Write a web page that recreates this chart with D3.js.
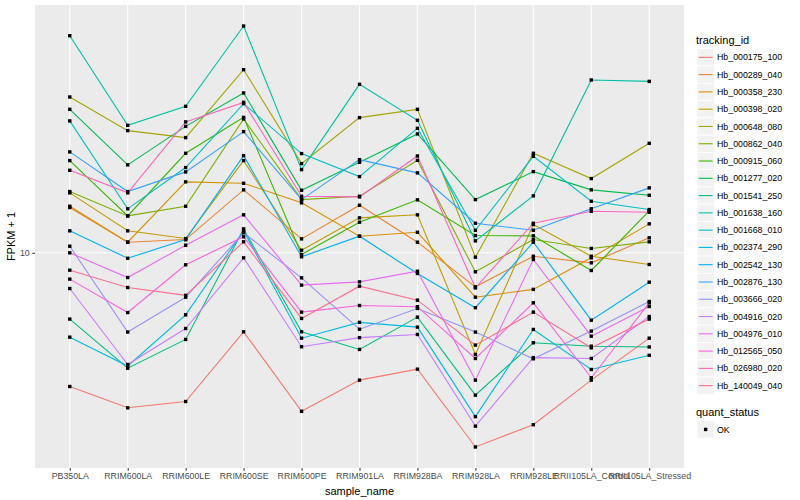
<!DOCTYPE html>
<html><head><meta charset="utf-8">
<script src="https://cdn.jsdelivr.net/npm/d3@7"></script>
<style>
body{margin:0;background:#fff}
text{font-family:"Liberation Sans",Arial,Helvetica,sans-serif}
</style>
</head><body>
<svg id="chart" width="800" height="500"></svg>
<script>
const categories = ["PB350LA","RRIM600LA","RRIM600LE","RRIM600SE","RRIM600PE","RRIM901LA","RRIM928BA","RRIM928LA","RRIM928LE","RRII105LA_Control","RRII105LA_Stressed"];
const trackingIds = ["Hb_000175_100","Hb_000289_040","Hb_000358_230","Hb_000398_020","Hb_000648_080","Hb_000862_040","Hb_000915_060","Hb_001277_020","Hb_001541_250","Hb_001638_160","Hb_001668_010","Hb_002374_290","Hb_002542_130","Hb_002876_130","Hb_003666_020","Hb_004916_020","Hb_004976_010","Hb_012565_050","Hb_026980_020","Hb_140049_040"];
const quantStatus = ["OK"];
const yTicks = [10];

// FPKM + 1 per sample (order of categories)
const Hb_000175_100 = [3.58, 3.04, 3.19, 5.45, 2.96, 3.76, 4.09, 2.25, 2.67, 3.76, 5.19];
const Hb_000289_040 = [14.16, 10.85, 11.07, 16.22, 11.13, 14.41, 10.85, 7.70, 9.74, 9.26, 11.22];
const Hb_000358_230 = [14.30, 10.85, 17.25, 17.06, 14.68, 11.36, 11.71, 7.11, 7.55, 9.62, 12.49];
const Hb_000398_020 = [15.85, 11.84, 11.16, 20.31, 10.20, 13.08, 13.39, 4.58, 12.43, 9.74, 9.14];
const Hb_000648_080 = [33.11, 25.57, 24.23, 40.83, 19.85, 28.25, 30.11, 9.67, 21.48, 17.69, 23.19];
const Hb_000862_040 = [16.01, 13.28, 14.30, 27.97, 15.05, 15.44, 20.35, 8.64, 11.07, 10.34, 10.88];
const Hb_000915_060 = [20.31, 13.28, 21.48, 28.31, 9.87, 12.65, 15.02, 11.42, 11.39, 8.73, 13.80];
const Hb_001277_020 = [30.11, 19.65, 26.42, 34.15, 16.17, 20.04, 24.93, 15.05, 18.66, 16.22, 15.56];
const Hb_001541_250 = [6.01, 4.12, 5.14, 12.02, 5.45, 4.76, 6.10, 3.35, 5.01, 4.88, 4.85];
const Hb_001638_160 = [53.01, 26.63, 30.81, 57.10, 18.95, 36.48, 27.67, 10.96, 15.49, 37.73, 37.33];
const Hb_001668_010 = [27.55, 14.02, 19.25, 31.45, 21.43, 17.96, 26.02, 11.89, 20.99, 14.86, 13.94];
const Hb_002374_290 = [5.23, 4.19, 6.21, 11.84, 5.19, 5.86, 5.65, 2.84, 5.55, 4.08, 4.55];
const Hb_002542_130 = [11.84, 9.59, 11.07, 21.10, 9.70, 11.36, 8.53, 6.56, 10.85, 5.96, 7.98];
const Hb_002876_130 = [21.71, 16.01, 18.62, 25.37, 15.05, 20.46, 18.48, 12.55, 11.89, 14.02, 16.47];
const Hb_003666_020 = [10.52, 5.44, 7.11, 11.66, 8.25, 5.56, 6.52, 5.44, 4.43, 5.48, 6.88];
const Hb_004916_020 = [7.60, 4.24, 5.59, 9.62, 4.86, 5.21, 5.34, 2.64, 4.47, 4.44, 6.13];
const Hb_004976_010 = [10.00, 8.27, 10.60, 13.39, 7.80, 8.00, 8.68, 3.76, 9.50, 5.27, 6.62];
const Hb_012565_050 = [8.17, 6.32, 9.12, 11.31, 6.34, 6.67, 6.61, 4.44, 6.81, 3.83, 6.81];
const Hb_026980_020 = [18.85, 15.85, 27.34, 31.77, 15.44, 15.37, 21.05, 7.64, 12.55, 13.76, 13.66];
const Hb_140049_040 = [8.75, 7.66, 7.21, 10.88, 6.04, 7.74, 6.95, 4.92, 6.34, 4.82, 6.01];

const seriesValues = [Hb_000175_100, Hb_000289_040, Hb_000358_230, Hb_000398_020, Hb_000648_080, Hb_000862_040, Hb_000915_060, Hb_001277_020, Hb_001541_250, Hb_001638_160, Hb_001668_010, Hb_002374_290, Hb_002542_130, Hb_002876_130, Hb_003666_020, Hb_004916_020, Hb_004976_010, Hb_012565_050, Hb_026980_020, Hb_140049_040];

const palette = ["#F8766D","#EA8331","#D89000","#C09B00","#A3A500","#7CAE00","#39B600","#00BB4E","#00BF7D","#00C1A3","#00BFC4","#00BAE0","#00B0F6","#35A2FF","#9590FF","#C77CFF","#E76BF3","#FA62DB","#FF62BC","#FF6C91"];

const series = trackingIds.map((id, i) => ({id, values: seriesValues[i]}));

const svg = d3.select("#chart");
const P = {left: 35, right: 684, top: 5, bottom: 468};

const x = d3.scalePoint().domain(categories).range([P.left, P.right]).padding(0.6);
const all = seriesValues.flat();
const lmin = Math.log10(d3.min(all)), lmax = Math.log10(d3.max(all));
const ex = (lmax - lmin) * 0.05;
const y = d3.scaleLog().domain([10 ** (lmin - ex), 10 ** (lmax + ex)]).range([P.bottom, P.top]);
const color = d3.scaleOrdinal().domain(trackingIds).range(palette);

// panel
svg.append("rect").attr("x", P.left).attr("y", P.top).attr("width", P.right - P.left).attr("height", P.bottom - P.top).attr("fill", "#EBEBEB");

// grid
const grid = svg.append("g");
grid.selectAll("line.v").data(categories).join("line")
  .attr("x1", d => x(d)).attr("x2", d => x(d)).attr("y1", P.top).attr("y2", P.bottom)
  .attr("stroke", "#fff").attr("stroke-width", 1.1);
grid.selectAll("line.h").data(yTicks).join("line")
  .attr("x1", P.left).attr("x2", P.right).attr("y1", d => y(d)).attr("y2", d => y(d))
  .attr("stroke", "#fff").attr("stroke-width", 1.1);

// lines
const line = d3.line().x((d, i) => x(categories[i])).y(d => y(d));
svg.append("g").selectAll("path").data(series).join("path")
  .attr("d", d => line(d.values)).attr("fill", "none")
  .attr("stroke", d => color(d.id)).attr("stroke-width", 1.1);

// points
const pts = series.flatMap(s => s.values.map((v, i) => ({c: categories[i], v})));
const ps = 3.4;
svg.append("g").selectAll("rect").data(pts).join("rect")
  .attr("x", d => x(d.c) - ps / 2).attr("y", d => y(d.v) - ps / 2)
  .attr("width", ps).attr("height", ps).attr("fill", "#000");

// axes
const xAxis = svg.append("g").attr("transform", `translate(0,${P.bottom})`)
  .call(d3.axisBottom(x).tickSize(2.75).tickPadding(2.5));
const yAxis = svg.append("g").attr("transform", `translate(${P.left},0)`)
  .call(d3.axisLeft(y).tickValues(yTicks).tickFormat(d3.format("d")).tickSize(2.75).tickPadding(2.5));
[xAxis, yAxis].forEach(a => {
  a.select(".domain").remove();
  a.selectAll(".tick line").attr("stroke", "#333").attr("stroke-width", 1);
  a.selectAll(".tick text").attr("fill", "#4D4D4D").style("font-size", "8.8px")
    .style("font-family", '"Liberation Sans",Arial,sans-serif');
});

svg.append("text").attr("x", (P.left + P.right) / 2).attr("y", 495).attr("text-anchor", "middle")
  .style("font-size", "11px").attr("fill", "#000").text("sample_name");
svg.append("text").attr("transform", `translate(15,${(P.top + P.bottom) / 2}) rotate(-90)`)
  .attr("text-anchor", "middle").style("font-size", "11px").attr("fill", "#000").text("FPKM + 1");

// legend: tracking_id
const lg = svg.append("g");
lg.append("text").attr("x", 696).attr("y", 44).style("font-size", "11px").text("tracking_id");
const keyH = 17.28, key0 = 48.7;
const items = lg.selectAll("g.item").data(trackingIds).join("g")
  .attr("transform", (d, i) => `translate(697,${key0 + i * keyH})`);
items.append("rect").attr("width", 17.28).attr("height", 17.28).attr("fill", "#F2F2F2").attr("stroke", "#fff").attr("stroke-width", 0.8);
items.append("line").attr("x1", 1.7).attr("x2", 15.6).attr("y1", 8.64).attr("y2", 8.64)
  .attr("stroke", d => color(d)).attr("stroke-width", 1.1);
items.append("text").attr("x", 20).attr("y", 8.64).attr("dy", "0.35em").style("font-size", "8.8px").text(d => d);

// legend: quant_status
lg.append("text").attr("x", 696).attr("y", 416).style("font-size", "11px").text("quant_status");
const q = lg.selectAll("g.q").data(quantStatus).join("g").attr("transform", (d, i) => `translate(697,${420.8 + i * keyH})`);
q.append("rect").attr("width", 17.28).attr("height", 17.28).attr("fill", "#F2F2F2").attr("stroke", "#fff").attr("stroke-width", 0.8);
q.append("rect").attr("x", 8.64 - ps / 2).attr("y", 8.64 - ps / 2).attr("width", ps).attr("height", ps).attr("fill", "#000");
q.append("text").attr("x", 20).attr("y", 8.64).attr("dy", "0.35em").style("font-size", "8.8px").text(d => d);
</script>
</body></html>
